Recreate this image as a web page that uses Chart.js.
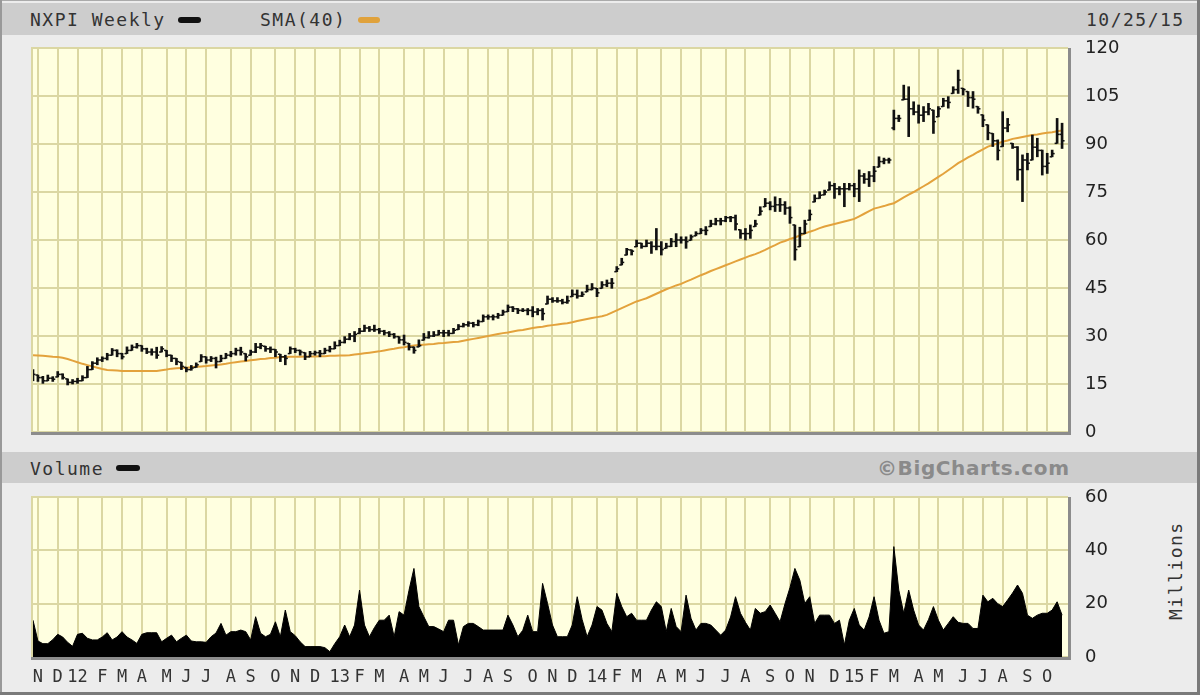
<!DOCTYPE html>
<html><head><meta charset="utf-8">
<script src="https://cdn.jsdelivr.net/npm/chart.js@4.4.1/dist/chart.umd.min.js"></script>
<style>
html,body{margin:0;padding:0;background:#ececec;}
#wrap{position:relative;width:1200px;height:695px;background:#ececec;overflow:hidden;}
.band{position:absolute;left:2px;right:3px;background:#cdcdcd;}
.edge{position:absolute;background:#7a7a7a;}
.t{position:absolute;font-family:'DejaVu Sans Mono',monospace;font-size:18px;letter-spacing:1.5px;color:#333;white-space:nowrap;line-height:18px;}
.sw{position:absolute;height:6px;border-radius:3px;}
canvas{position:absolute;left:0;}
</style></head><body>
<div id="wrap">
  <div class="band" style="top:3px;height:32px"></div>
  <div class="band" style="top:452px;height:31px"></div>
  <div class="edge" style="left:0;top:0;width:1200px;height:1px;background:#aaa"></div>
  <div class="edge" style="left:0;top:0;width:2px;height:695px;background:#999"></div>
  <div class="edge" style="right:0;top:0;width:3px;height:695px"></div>
  <div class="edge" style="left:0;bottom:0;width:1200px;height:3px"></div>
  <div class="t" style="left:30px;top:11px">NXPI Weekly</div>
  <div class="sw" style="left:178px;top:17px;width:23px;background:#111"></div>
  <div class="t" style="left:260px;top:11px">SMA(40)</div>
  <div class="sw" style="left:358px;top:17px;width:22px;background:#e0a23c"></div>
  <div class="t" style="left:1086px;top:11px">10/25/15</div>
  <div class="t" style="left:30px;top:460px">Volume</div>
  <div class="sw" style="left:116px;top:465px;width:24px;background:#111"></div>
  <div class="t" style="left:877px;top:458px;font-family:'DejaVu Sans',sans-serif;font-weight:bold;font-size:20px;letter-spacing:0.6px;color:#8a8a8a;line-height:20px">©BigCharts.com</div>
  <div class="t" style="left:1128px;top:563px;transform:rotate(-90deg);transform-origin:center;width:96px;text-align:center">Millions</div>
  <canvas id="price" width="1200" height="424" style="top:28px"></canvas>
  <canvas id="vol" width="1200" height="212" style="top:483px"></canvas>
</div>
<script>
// ---- Data (weekly bars, first week starting Oct 24, 2011) ----
const startWeek = '2011-10-24';
const monthLetters = ['J','F','M','A','M','J','J','A','S','O','N','D'];
const priceTicks = [0,15,30,45,60,75,90,105,120];
const volumeTicks = [0,20,40,60];

const open = [
17.5,17.8,17.0,16.0,16.8,17.2,18.0,16.6,15.5,15.8,
16.0,17.0,19.5,21.5,22.5,23.0,24.0,25.5,24.5,24.5,
25.5,26.5,27.0,26.0,25.0,25.0,25.0,25.5,24.0,23.0,
21.8,20.2,19.5,20.2,22.0,23.5,22.5,23.0,22.0,23.0,
24.0,24.5,25.5,24.5,24.0,25.0,26.5,26.8,26.0,25.8,
24.3,23.5,24.5,26.0,25.5,24.8,23.5,24.5,24.8,24.5,
25.5,26.0,27.0,28.0,29.0,30.0,30.8,31.5,32.5,32.0,
32.0,31.5,31.0,30.5,29.8,28.8,27.7,26.5,26.6,28.7,
29.5,30.0,30.3,31.0,31.0,30.8,32.0,33.0,33.5,34.0,
33.5,34.5,36.0,36.0,36.0,36.5,37.6,39.0,38.5,38.0,
38.0,38.0,37.5,38.0,40.0,41.5,41.0,41.0,40.5,42.3,
43.0,42.5,43.8,44.5,44.9,44.9,46.0,46.5,50.1,52.2,
55.3,56.9,57.9,59.0,58.0,59.0,58.0,58.0,57.4,58.0,
59.5,60.0,60.0,59.9,61.3,62.0,63.0,64.2,65.0,66.0,
66.0,67.0,67.0,63.2,62.0,62.0,64.2,67.8,70.4,71.5,
70.5,71.0,71.0,70.0,64.7,57.9,62.0,66.2,71.9,73.0,
74.1,75.6,77.0,76.0,76.0,76.0,77.0,76.0,80.0,79.0,
80.0,82.8,84.5,85.0,95.0,98.0,103.8,104.0,101.0,100.0,
99.0,100.0,100.6,98.5,101.7,103.5,105.8,107.0,107.4,106.4,
104.5,101.7,99.1,96.0,93.3,91.0,89.2,95.0,90.2,89.0,
82.0,85.0,85.0,89.0,88.0,83.0,86.0,90.2,93.0];

const close = [
18.0,17.0,16.0,16.8,16.5,18.0,17.0,15.5,15.8,16.0,
17.0,19.5,21.5,22.5,23.0,24.0,25.5,24.5,23.5,25.5,
26.5,27.0,26.0,25.0,25.0,24.0,26.0,24.0,23.0,22.0,
20.5,19.5,20.0,21.0,23.5,22.5,23.0,22.0,23.0,24.0,
24.5,25.5,25.0,23.5,25.0,26.5,27.0,26.0,25.8,25.0,
23.5,23.0,26.0,25.5,25.0,23.5,24.5,24.8,24.5,25.5,
26.0,27.0,28.0,29.0,30.0,30.5,31.5,32.5,32.0,32.0,
31.5,31.0,30.5,29.8,28.8,28.0,26.5,25.5,27.0,29.5,
30.0,30.3,31.0,31.0,30.8,31.8,33.0,33.5,34.0,33.5,
34.5,36.0,36.0,36.0,36.5,37.5,39.0,38.5,38.0,38.0,
38.0,37.5,38.0,37.0,41.5,41.0,41.0,40.5,41.0,43.0,
42.5,43.0,44.5,45.0,43.5,46.0,46.5,46.5,51.0,53.0,
57.0,56.5,59.0,58.0,59.0,58.0,58.0,57.0,58.0,59.5,
60.0,60.0,59.5,61.0,62.0,63.0,63.0,65.0,66.0,66.0,
67.0,67.0,65.0,62.0,62.0,63.0,65.0,69.0,71.5,70.5,
71.0,71.0,70.0,67.0,57.0,62.0,65.0,68.0,73.0,74.0,
75.0,77.0,76.0,76.0,76.0,77.0,76.0,80.0,79.0,80.0,
81.5,84.5,85.0,85.0,98.0,98.0,104.0,101.0,100.0,99.0,
100.0,101.0,97.0,101.0,103.5,103.0,107.0,110.0,107.0,104.5,
104.0,101.0,97.5,93.5,91.0,88.0,95.0,96.0,89.0,82.0,
85.0,84.0,89.0,88.0,83.0,84.0,87.0,93.0,91.0];

const high = [
19.5,17.8,17.4,17.8,17.3,18.9,18.2,16.6,16.4,16.8,
17.6,20.5,22.0,23.2,23.5,24.6,26.1,25.7,24.6,26.6,
27.2,27.7,27.0,26.2,26.0,26.5,26.7,25.5,24.0,23.0,
21.8,20.2,20.8,21.6,24.2,23.5,23.6,23.4,24.0,24.6,
25.2,26.2,26.5,24.5,25.6,27.7,27.7,26.8,26.6,25.8,
24.3,24.0,26.6,26.2,25.6,24.8,25.2,25.3,25.5,26.2,
26.8,28.2,28.7,29.8,30.8,31.4,32.4,33.4,33.0,33.4,
32.4,31.8,31.4,30.8,29.8,30.3,27.7,26.6,28.8,30.8,
31.4,31.4,31.8,31.8,31.8,32.4,33.6,34.0,34.5,34.3,
35.0,36.6,36.6,36.6,37.1,38.1,39.7,39.2,38.6,38.6,
38.6,39.2,38.6,38.6,42.5,42.0,42.0,41.5,42.5,44.4,
44.4,43.8,45.9,46.4,44.9,47.0,47.5,48.0,51.7,54.3,
57.4,56.9,60.0,59.0,60.0,59.5,63.6,59.5,59.0,60.5,
62.0,61.0,61.0,61.6,62.6,63.6,64.2,66.2,66.8,66.8,
67.4,67.4,67.8,63.2,63.6,64.7,66.2,70.4,73.0,72.0,
73.5,73.0,72.0,70.4,64.7,64.0,66.2,69.4,74.1,75.1,
75.6,78.2,77.7,76.7,77.7,77.7,77.7,81.9,80.8,81.4,
83.0,86.0,85.6,85.6,100.6,99.0,108.4,107.9,103.2,102.2,
101.7,102.7,100.6,101.7,104.3,104.8,107.9,113.1,107.4,106.4,
106.4,101.7,99.1,96.0,93.3,91.3,100.1,98.0,90.2,89.2,
86.6,87.1,92.8,91.8,88.1,87.1,88.1,98.0,96.5];

const low = [
16.0,15.8,15.2,16.0,15.8,17.2,16.5,14.7,15.0,15.2,
16.0,17.0,19.5,21.0,22.0,22.5,24.0,23.5,22.8,24.5,
25.5,26.2,25.2,24.5,24.0,23.0,25.0,23.5,22.0,21.0,
19.5,18.8,19.3,20.2,22.0,21.5,22.0,20.0,22.0,23.0,
23.5,24.0,24.0,22.2,24.0,24.8,26.0,25.2,24.8,23.5,
22.0,21.0,24.5,24.8,24.0,22.6,23.5,24.0,23.5,24.5,
25.0,26.0,27.0,27.8,28.8,28.2,30.8,31.4,31.4,31.4,
30.8,30.3,29.8,29.3,27.7,27.2,25.6,24.6,26.6,28.7,
29.3,29.8,30.3,29.8,30.0,30.8,32.0,32.8,33.0,32.8,
33.2,34.5,35.2,35.0,35.5,36.5,37.6,37.6,37.0,37.6,
36.6,36.0,36.6,35.0,40.0,40.5,40.5,40.0,40.2,42.3,
41.8,42.3,43.8,44.4,42.3,44.9,45.4,44.9,50.1,52.2,
55.3,55.3,57.9,57.4,57.9,55.8,56.9,55.3,57.4,57.9,
57.9,59.0,57.4,59.9,61.3,62.0,61.6,64.2,64.7,64.7,
65.7,65.7,63.1,60.5,60.0,60.5,64.2,67.8,70.4,69.4,
68.9,68.9,68.0,65.2,53.7,57.9,62.0,66.2,71.9,73.0,
74.1,75.6,73.0,74.1,70.4,75.6,73.5,72.0,77.7,76.7,
78.2,82.8,83.8,84.0,94.4,97.0,103.8,92.3,99.1,96.5,
97.0,99.1,93.3,98.5,101.7,101.2,105.8,105.8,105.3,101.7,
101.2,99.6,95.4,91.3,89.2,85.0,89.2,93.8,88.6,78.7,
72.0,81.9,85.0,86.0,80.3,80.8,86.0,90.2,88.6];

const sma40 = [
24.0,23.9,23.8,23.7,23.5,23.4,23.2,22.8,22.3,21.8,
21.3,20.9,20.5,20.1,19.7,19.4,19.3,19.2,19.1,19.1,
19.1,19.1,19.1,19.1,19.1,19.1,19.3,19.5,19.8,19.9,
20.0,20.1,20.2,20.4,20.5,20.6,20.8,20.9,21.1,21.3,
21.6,21.8,22.0,22.2,22.4,22.6,22.8,22.9,23.1,23.2,
23.4,23.4,23.5,23.5,23.5,23.6,23.6,23.6,23.7,23.7,
23.8,23.8,23.9,23.9,24.0,24.2,24.4,24.6,24.8,25.0,
25.2,25.5,25.8,26.0,26.3,26.5,26.8,27.0,27.2,27.3,
27.4,27.5,27.7,27.8,28.0,28.1,28.2,28.5,28.8,29.1,
29.4,29.7,30.0,30.3,30.6,30.9,31.1,31.4,31.7,31.9,
32.2,32.5,32.7,32.9,33.2,33.4,33.6,33.8,34.0,34.3,
34.7,35.0,35.3,35.6,35.9,36.2,36.6,37.3,38.0,38.7,
39.4,40.1,40.8,41.3,41.8,42.5,43.2,43.9,44.6,45.2,
45.8,46.3,47.0,47.6,48.3,49.0,49.6,50.3,50.9,51.5,
52.1,52.7,53.3,53.9,54.5,55.1,55.6,56.2,56.9,57.7,
58.4,59.2,59.7,60.3,60.8,61.4,62.0,62.6,63.1,63.7,
64.2,64.6,65.0,65.4,65.8,66.2,66.6,67.4,68.2,69.0,
69.8,70.2,70.6,71.1,71.5,72.4,73.3,74.2,75.0,75.9,
76.8,77.7,78.7,79.7,80.7,81.8,82.9,84.0,84.9,85.8,
86.6,87.5,88.3,89.2,89.7,90.2,90.7,91.1,91.6,91.9,
92.2,92.5,92.8,93.0,93.3,93.5,93.7,94.0,94.2];

const volume = [
13.8,6,5,5,6.5,8.5,7.5,5.5,4,8.5,
8.9,7,6.4,6.4,7.5,9.1,6.4,7.5,9.5,7.5,
6.4,5.1,8.5,9.1,9.1,9.1,5.7,7,8.2,5.7,
7,8.2,6,5.7,5.7,5.5,7.6,9,12.6,8.2,
9.5,9.5,10.1,9.5,6.4,15.1,8.9,7.6,8.5,13.2,
7.6,17.6,9.5,8,5.7,3.9,3.9,3.9,3.9,3.5,
2,5,7.6,12,7.6,12,25.1,12,7.6,11,
13.8,13.8,15.7,7.6,17,15.7,25,33.2,18.9,15.1,
11.4,11.4,10.5,9.5,13.8,13.8,4.5,11.4,12.6,12.6,
11.4,10.1,10.1,10.1,10.1,10.1,15.7,12,7.6,10,
15.7,9.5,9.5,27.6,20.1,12,7.6,7.6,7.6,12,
22.6,14,7.6,12,18.9,17.6,12.6,9.5,23.9,18.9,
15.1,16.4,13.8,13.8,13.8,17.6,20.7,18.9,9.5,18.2,
11.4,9.5,23.2,14.5,10.1,12.6,12.6,12,10.1,8.2,
10.1,15,22.6,16.4,13,10.1,18.2,16.4,17,19.5,
16.4,13.2,20,26,33.2,28.8,20.1,22.6,12.6,15.7,
15.7,15.7,12.6,13.8,4.5,13.8,18.2,12,10.1,15,
22.6,13.8,8.9,9.5,41.4,25.1,16.4,25.1,17.6,12,
10.1,14,18.9,13.8,10.1,12.6,15.1,13,12.6,12.6,
10.7,10.7,23.2,20.7,22,20,18.9,21.4,24,27,
23.9,15.7,14.5,15.7,16.4,16.4,17.6,20.7,15.7];

// ---- Month gridlines: week that contains the 1st of each month ----
const N = close.length;
const t0 = Date.parse(startWeek + 'T00:00:00Z');
const monthTicks = [];
for (let i = 0; i < N; i++) {
  const d0 = new Date(t0 + i * 7 * 864e5);
  const d6 = new Date(t0 + (i * 7 + 6) * 864e5);
  if (d0.getUTCDate() === 1 || d6.getUTCMonth() !== d0.getUTCMonth()) {
    const m = d6.getUTCMonth();
    monthTicks.push({ value: i, label: m === 0 ? String(d6.getUTCFullYear() % 100) : monthLetters[m] });
  }
}
const tickLabel = {};
monthTicks.forEach(t => tickLabel[t.value] = t.label);

const GRID = '#dbd7a3';
const BG = '#ffffe0';
const XMIN = -0.2, XMAX = 209.2;

const frame = {
  id: 'frame',
  beforeDraw(c) {
    const { ctx, chartArea: a } = c;
    ctx.save(); ctx.fillStyle = BG;
    ctx.fillRect(a.left, a.top, a.right - a.left, a.bottom - a.top);
    ctx.restore();
  },
  afterDraw(c) {
    const { ctx, chartArea: a } = c;
    ctx.save();
    ctx.strokeStyle = GRID; ctx.lineWidth = 2;
    ctx.beginPath(); ctx.moveTo(a.left, a.bottom); ctx.lineTo(a.left, a.top); ctx.lineTo(a.right, a.top); ctx.stroke();
    ctx.strokeStyle = '#8c8c8c'; ctx.lineWidth = 3;
    ctx.beginPath(); ctx.moveTo(a.left - 1, a.bottom + 1.5); ctx.lineTo(a.right + 1.5, a.bottom + 1.5); ctx.lineTo(a.right + 1.5, a.top); ctx.stroke();
    ctx.restore();
  }
};

const xScale = (showLabels) => ({
  type: 'linear', min: XMIN, max: XMAX, offset: false,
  afterBuildTicks: s => { s.ticks = monthTicks.map(t => ({ value: t.value })); },
  afterFit: s => { s.height = showLabels ? 38 : 0; s.paddingLeft = 0; s.paddingRight = 0; },
  grid: { color: GRID, lineWidth: 2, drawTicks: false, offset: false },
  border: { display: false },
  ticks: {
    display: showLabels, autoSkip: false, maxRotation: 0, minRotation: 0, padding: 10,
    color: '#333', font: { family: 'DejaVu Sans Mono', size: 17 },
    callback: v => tickLabel[v] ?? ''
  }
});

const yScale = (min, max, ticks) => ({
  type: 'linear', position: 'right', min, max,
  afterBuildTicks: s => { s.ticks = ticks.map(v => ({ value: v })); },
  afterFit: s => { s.width = 132; s.paddingTop = 0; s.paddingBottom = 0; },
  grid: { color: GRID, lineWidth: 2, drawTicks: false },
  border: { display: false },
  ticks: { padding: 17, color: '#222', font: { family: 'DejaVu Sans', size: 18 } }
});

const idx = Array.from({ length: N }, (_, i) => i);

new Chart(document.getElementById('price'), {
  type: 'line',
  data: {
    datasets: [
      { type: 'line', label: 'SMA(40)', data: idx.map(i => ({ x: i, y: sma40[i] })), borderColor: '#e3a23c', borderWidth: 2, pointRadius: 0, tension: 0, order: 4 },
      { type: 'bar', label: 'Range', data: idx.map(i => ({ x: i, y: [low[i], high[i]] })), backgroundColor: '#111', barThickness: 2, grouped: false, order: 3 },
      { type: 'line', label: 'Open', data: idx.map(i => ({ x: i, y: open[i] })), showLine: false, pointStyle: 'dash', rotation: 180, pointRadius: 2.5, borderColor: '#111', borderWidth: 1.5, order: 2 },
      { type: 'line', label: 'Close', data: idx.map(i => ({ x: i, y: close[i] })), showLine: false, pointStyle: 'dash', pointRadius: 2.5, borderColor: '#111', borderWidth: 1.5, order: 1 }
    ]
  },
  options: {
    responsive: false, animation: false, devicePixelRatio: 1,
    layout: { padding: { left: 32, top: 20, bottom: 20, right: 0 } },
    plugins: { legend: { display: false }, tooltip: { enabled: false } },
    scales: { x: xScale(false), y: yScale(0, 120, priceTicks) }
  },
  plugins: [frame]
});

new Chart(document.getElementById('vol'), {
  type: 'line',
  data: {
    datasets: [
      { label: 'Volume', data: idx.map(i => ({ x: i, y: volume[i] })), borderColor: '#000', backgroundColor: '#000', borderWidth: 1, fill: 'origin', pointRadius: 0, tension: 0 }
    ]
  },
  options: {
    responsive: false, animation: false, devicePixelRatio: 1,
    layout: { padding: { left: 32, top: 14, bottom: 0, right: 0 } },
    plugins: { legend: { display: false }, tooltip: { enabled: false } },
    scales: { x: xScale(true), y: yScale(0, 60, volumeTicks) }
  },
  plugins: [frame]
});
</script>
</body></html>
